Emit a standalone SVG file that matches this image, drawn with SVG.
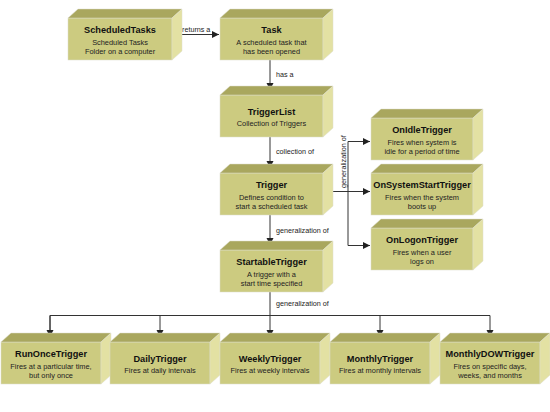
<svg xmlns="http://www.w3.org/2000/svg" width="550" height="412" viewBox="0 0 550 412">
<style>
.front{fill:#cccb80}
.top{fill:#a9a75e}
.side{fill:#e3e1a3}
.box rect,.box polygon{stroke:#dcdccc;stroke-width:0.5}
.t{font-family:"Liberation Sans",Arial,sans-serif;font-size:9.2px;font-weight:bold;fill:#111;text-anchor:middle}
.d{font-family:"Liberation Sans",Arial,sans-serif;font-size:7.4px;fill:#222;text-anchor:middle}
.l{font-family:"Liberation Sans",Arial,sans-serif;font-size:7.2px;fill:#222}
.c{stroke:#333;stroke-width:1;fill:none}
</style>
<defs>
<marker id="ah" markerUnits="userSpaceOnUse" markerWidth="8" markerHeight="8" refX="7" refY="3.5" orient="auto">
<path d="M0,0 L7,3.5 L0,7 Z" fill="#222"/>
</marker>
</defs>
<rect width="550" height="412" fill="#fff"/>

<g id="connectors">
<path class="c" d="M173,34.5 H219" marker-end="url(#ah)"/>
<text class="l" x="182" y="31.5">returns a</text>
<path class="c" d="M270,60 V90" marker-end="url(#ah)"/>
<text class="l" x="276" y="77">has a</text>
<path class="c" d="M270,137 V168" marker-end="url(#ah)"/>
<text class="l" x="276" y="154">collection of</text>
<path class="c" d="M270,215 V245" marker-end="url(#ah)"/>
<text class="l" x="276" y="233">generalization of</text>
<path class="c" d="M325,191.5 H370" marker-end="url(#ah)"/>
<path class="c" d="M348,245.5 V141.5 H370" marker-end="url(#ah)"/>
<path class="c" d="M348,245.5 H370" marker-end="url(#ah)"/>
<text class="l" transform="translate(345.5,188) rotate(-90)">generalization of</text>
<path class="c" d="M270,292 V337" marker-end="url(#ah)"/>
<path class="c" d="M50,337 V315.5 H490 V337" marker-end="url(#ah)"/>
<path class="c" d="M50,315.5 V337" marker-end="url(#ah)"/>
<path class="c" d="M160,315.5 V337" marker-end="url(#ah)"/>
<path class="c" d="M380,315.5 V337" marker-end="url(#ah)"/>
<text class="l" x="276" y="306">generalization of</text>
</g>

<g id="ScheduledTasks" class="box">
<rect class="front" x="68" y="18" width="104" height="42"/>
<polygon class="top" points="68,18 78,9 182,9 172,18"/>
<polygon class="side" points="172,18 182,9 182,51 172,60"/>
<text class="t" x="120" y="32.5">ScheduledTasks</text>
<text class="d" x="120" y="45">Scheduled Tasks</text>
<text class="d" x="120" y="54">Folder on a computer</text>
</g>

<g id="Task" class="box">
<rect class="front" x="220" y="18" width="103" height="42"/>
<polygon class="top" points="220,18 230,9 333,9 323,18"/>
<polygon class="side" points="323,18 333,9 333,51 323,60"/>
<text class="t" x="271.5" y="32.5">Task</text>
<text class="d" x="271.5" y="45">A scheduled task that</text>
<text class="d" x="271.5" y="54">has been opened</text>
</g>

<g id="TriggerList" class="box">
<rect class="front" x="220" y="95" width="103" height="42"/>
<polygon class="top" points="220,95 230,86 333,86 323,95"/>
<polygon class="side" points="323,95 333,86 333,128 323,137"/>
<text class="t" x="271.5" y="115">TriggerList</text>
<text class="d" x="271.5" y="126">Collection of Triggers</text>
</g>

<g id="Trigger" class="box">
<rect class="front" x="220" y="173" width="103" height="42"/>
<polygon class="top" points="220,173 230,164 333,164 323,173"/>
<polygon class="side" points="323,173 333,164 333,206 323,215"/>
<text class="t" x="271.5" y="187.5">Trigger</text>
<text class="d" x="271.5" y="200">Defines condition to</text>
<text class="d" x="271.5" y="209">start a scheduled task</text>
</g>

<g id="StartableTrigger" class="box">
<rect class="front" x="220" y="250" width="103" height="42"/>
<polygon class="top" points="220,250 230,241 333,241 323,250"/>
<polygon class="side" points="323,250 333,241 333,283 323,292"/>
<text class="t" x="271.5" y="264.5">StartableTrigger</text>
<text class="d" x="271.5" y="277">A trigger with a</text>
<text class="d" x="271.5" y="286">start time specified</text>
</g>

<g id="OnIdleTrigger" class="box">
<rect class="front" x="371" y="118" width="102" height="42"/>
<polygon class="top" points="371,118 381,109 483,109 473,118"/>
<polygon class="side" points="473,118 483,109 483,151 473,160"/>
<text class="t" x="422" y="132.5">OnIdleTrigger</text>
<text class="d" x="422" y="145">Fires when system is</text>
<text class="d" x="422" y="154">idle for a period of time</text>
</g>

<g id="OnSystemStartTrigger" class="box">
<rect class="front" x="371" y="173" width="102" height="42"/>
<polygon class="top" points="371,173 381,164 483,164 473,173"/>
<polygon class="side" points="473,173 483,164 483,206 473,215"/>
<text class="t" x="422" y="187.5">OnSystemStartTrigger</text>
<text class="d" x="422" y="200">Fires when the system</text>
<text class="d" x="422" y="209">boots up</text>
</g>

<g id="OnLogonTrigger" class="box">
<rect class="front" x="371" y="228" width="102" height="42"/>
<polygon class="top" points="371,228 381,219 483,219 473,228"/>
<polygon class="side" points="473,228 483,219 483,261 473,270"/>
<text class="t" x="422" y="242.5">OnLogonTrigger</text>
<text class="d" x="422" y="255">Fires when a user</text>
<text class="d" x="422" y="264">logs on</text>
</g>

<g id="RunOnceTrigger" class="box">
<rect class="front" x="1" y="342" width="100" height="42"/>
<polygon class="top" points="1,342 11,333 111,333 101,342"/>
<polygon class="side" points="101,342 111,333 111,375 101,384"/>
<text class="t" x="51" y="356.5">RunOnceTrigger</text>
<text class="d" x="51" y="369">Fires at a particular time,</text>
<text class="d" x="51" y="378">but only once</text>
</g>

<g id="DailyTrigger" class="box">
<rect class="front" x="110" y="342" width="100" height="42"/>
<polygon class="top" points="110,342 120,333 220,333 210,342"/>
<polygon class="side" points="210,342 220,333 220,375 210,384"/>
<text class="t" x="160" y="361.5">DailyTrigger</text>
<text class="d" x="160" y="372.5">Fires at daily intervals</text>
</g>

<g id="WeeklyTrigger" class="box">
<rect class="front" x="220" y="342" width="100" height="42"/>
<polygon class="top" points="220,342 230,333 330,333 320,342"/>
<polygon class="side" points="320,342 330,333 330,375 320,384"/>
<text class="t" x="270" y="361.5">WeeklyTrigger</text>
<text class="d" x="270" y="372.5">Fires at weekly intervals</text>
</g>

<g id="MonthlyTrigger" class="box">
<rect class="front" x="330" y="342" width="100" height="42"/>
<polygon class="top" points="330,342 340,333 440,333 430,342"/>
<polygon class="side" points="430,342 440,333 440,375 430,384"/>
<text class="t" x="380" y="361.5">MonthlyTrigger</text>
<text class="d" x="380" y="372.5">Fires at monthly intervals</text>
</g>

<g id="MonthlyDOWTrigger" class="box">
<rect class="front" x="440" y="342" width="100" height="42"/>
<polygon class="top" points="440,342 450,333 550,333 540,342"/>
<polygon class="side" points="540,342 550,333 550,375 540,384"/>
<text class="t" x="490" y="356.5">MonthlyDOWTrigger</text>
<text class="d" x="490" y="369">Fires on specific days,</text>
<text class="d" x="490" y="378">weeks, and months</text>
</g>
</svg>
